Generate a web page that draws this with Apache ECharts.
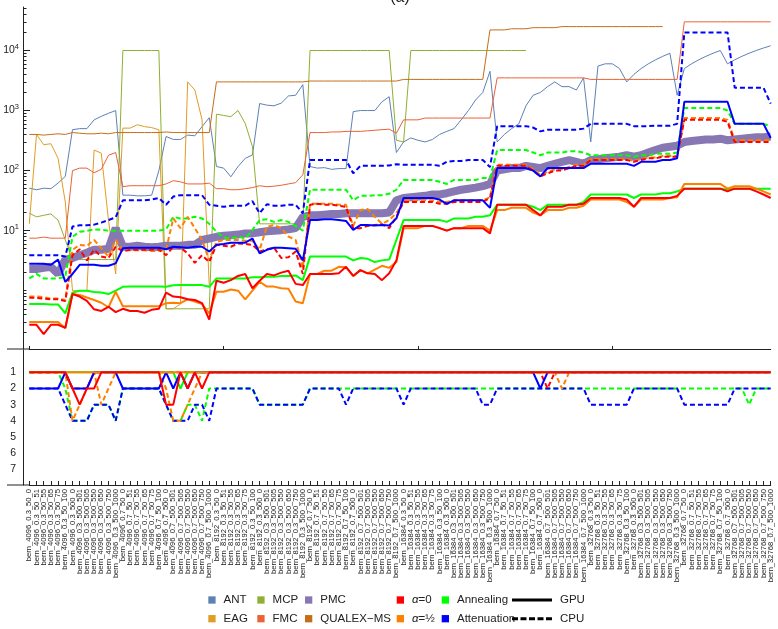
<!DOCTYPE html>
<html>
<head>
<meta charset="utf-8">
<script src="https://cdn.jsdelivr.net/npm/echarts@6/dist/echarts.min.js"></script>
<style>
  html, body { margin: 0; padding: 0; background: #fff; }
  #chart { width: 778px; height: 629px; }
</style>
</head>
<body>
<div id="chart"></div>
<script>
// category names: bern_<size>_<p>_<a>_<b>
const sizes = [4096, 8192, 16384, 32768];
const probs = ['0.3', '0.7'];
const suffixes = ['50_0', '50_51', '50_55', '50_65', '50_75', '50_100',
  '500_0', '500_501', '500_505', '500_550', '500_650', '500_750', '500_1000'];
const categories = [];
sizes.forEach(s => probs.forEach(p => suffixes.forEach(x => categories.push('bern_' + s + '_' + p + '_' + x))));

// top panel: times (log scale), one row per size/p block
const ant = [
  51, 48, 51, 50, 62, 80, 480, 500, 500, 700, 800, 900, 1000,
  39, 39, 38, 38, 39, 100, 370, 330, 330, 390, 380, 540, 760,
  117, 110, 79, 117, 160, 182, 1310, 1230, 1200, 1330, 1750, 1800, 2700,
  117, 110, 112, 105, 108, 108, 960, 1000, 1000, 1000, 1400, 1700, 200,
  300, 350, 320, 300, 330, 400, 450, 500, 700, 1000, 1500, 2000, 4500,
  300, 400, 500, 600, 1200, 1800, 2000, 2500, 3000, 2500, 2500, 2200, 3500,
  300, 5500, 6000, 6000, 5000, 3000, 4000, 5000, 6000, 7000, 8000, 9000, 1800,
  5000, 6000, 7000, 8000, 9000, 10000, 6000, 7000, 8000, 9000, 10000, 11000, 12000
];
const eag = [
  13, 400, 270, 280, 160, 30, 1.0, 1.0, 1.0, 220, 195, 15, 1.9,
  510, 510, 580, 540, 520, 480, 0.5, 0.5, 0.6, 3000, 2200, 700, 1.2,
  null, null, null, null, null, null, null, null, null, null, null, null, null,
  null, null, null, null, null, null, null, null, null, null, null, null, null,
  null, null, null, null, null, null, null, null, null, null, null, null, null,
  null, null, null, null, null, null, null, null, null, null, null, null, null,
  null, null, null, null, null, null, null, null, null, null, null, null, null,
  null, null, null, null, null, null, null, null, null, null, null, null, null
];
const mcp = [
  19.5, 17, 18, 19, 15, 7, 3.3, 3.3, 3.3, 3.3, 3.3, 3.3, 3.3,
  10000, 10000, 10000, 10000, 10000, 10000, 0.5, 0.5, 0.5, 0.5, 0.5, 0.5, 0.5,
  870, 830, 790, 1000, 610, 250, 13, 13, 13, 13, 13, 13, 13,
  10000, 10000, 10000, 10000, 10000, 10000, 10000, 10000, 10000, 10000, 10000, 10000, 320,
  300, 10000, 10000, 10000, 10000, 10000, 10000, 10000, 10000, 10000, 10000, 10000, 10000,
  10000, 10000, 10000, 10000, 10000, null, null, null, null, null, null, null, null,
  null, null, null, null, null, null, null, null, null, null, null, null, null,
  null, null, null, null, null, null, null, null, null, null, null, null, null
];
const fmc = [
  7.5, 7.5, 7.8, 7.5, 7.5, 7.5, 100, 110, 110, 92, 105, 180, 200,
  54, 56, 56, 56, 56, 56, 60, 68, 65, 60, 60, 60, 62,
  50, 50, 48, 48, 50, 52, 56, 54, 55, 57, 60, 63, 85,
  430, 430, 430, 440, 440, 450, 450, 450, 460, 470, 480, 490, 420,
  700, 700, 700, 750, 750, 750, 750, 750, 750, 750, 750, 750, 750,
  3500, 3500, 3500, 3500, 3500, 3500, 3500, 3500, 3500, 3500, 3500, 3500, 3500,
  3300, 3300, 3300, 3300, 3300, 3300, 3300, 3300, 3300, 3300, 3300, 3300, 3300,
  30000, 30000, 30000, 30000, 30000, 30000, 30000, 30000, 30000, 30000, 30000, 30000, 30000
];
const pmc = [
  2.3, 2.3, 2.4, 2.5, 1.9, 3.3, 3.5, 3.9, 4.3, 4.8, 4.8, 5.0, 11,
  5.4, 5.4, 5.6, 5.4, 5.3, 5.4, 5.6, 5.6, 5.6, 5.8, 5.8, 7.0, 7.4,
  7.9, 8.2, 8.4, 8.6, 9.0, 9.0, 9.4, 9.8, 10, 10.2, 10.5, 11, 17,
  18, 18, 18.5, 19, 19, 19.5, 19.5, 19.5, 19.5, 19.5, 19.5, 20, 32,
  35, 36, 37, 38, 40, 40, 42, 45, 48, 50, 52, 55, 60,
  100, 105, 110, 110, 120, 115, 110, 120, 130, 140, 150, 140, 130,
  150, 155, 160, 165, 170, 180, 170, 180, 200, 220, 240, 250, 260,
  300, 310, 320, 330, 330, 340, 320, 330, 340, 350, 360, 360, 370
];
const qualex = [
  400, 400, 390, 400, 410, 400, 430, 420, 410, 410, 420, 410, 430,
  430, 430, 430, 430, 430, 430, 440, 430, 430, 430, 430, 430, 430,
  3000, 3000, 3000, 3000, 3000, 3000, 3000, 3000, 3000, 3000, 3000, 3000, 3000,
  3100, 3100, 3100, 3100, 3100, 3100, 3100, 3100, 3100, 3100, 3100, 3100, 3100,
  3300, 3300, 3300, 3300, 3300, 3300, 3300, 3300, 3300, 3300, 3300, 3300, 22000,
  22000, 22000, 23000, 23000, 23000, 24000, 24000, 24000, 24000, 25000, 25000, 25000, 25000,
  25000, 25000, 25000, 25000, 25000, 25000, 25000, 25000, 25000, 25000, 25000, null, null,
  null, null, null, null, null, null, null, null, null, null, null, null, null
];
const a0Gpu = [
  0.27, 0.27, 0.19, 0.27, 0.27, 0.24, 0.88, 0.8, 0.68, 0.49, 0.46, 0.54, 0.44,
  0.5, 0.46, 0.46, 0.43, 0.48, 0.5, 0.93, 0.8, 0.78, 0.72, 0.7, 0.62, 0.33,
  1.47, 1.36, 1.5, 1.76, 1.9, 1.1, 1.47, 1.9, 1.8, 2.0, 2.15, 1.3, 1.24,
  1.9, 1.9, 1.9, 1.9, 1.95, 2.5, 1.76, 2.2, 1.95, 1.9, 1.5, 1.95, 3.2,
  12, 12, 12, 12, 12, 11, 10, 11, 11, 11, 11, 11, 9,
  27, 27, 27, 27, 27, 22, 18, 25, 25, 25, 27, 27, 28,
  35, 35, 35, 35, 35, 33, 25, 35, 35, 35, 35, 35, 38,
  50, 50, 50, 50, 50, 50, 45, 50, 50, 50, 45, 40, 35
];
const a0Cpu = [
  0.76, 0.76, 0.74, 0.72, 0.72, 0.67, 3.9, 4.9, 3.2, 4.8, 3.7, 3.5, 5.4,
  4.5, 4.8, 4.8, 4.8, 4.8, 4.9, 3.9, 5.4, 5.2, 4.2, 2.9, 3.9, 3.0,
  5.8, 5.6, 5.4, 6.1, 6.0, 5.8, 4.5, 4.9, 5.2, 3.5, 3.6, 4.5, 1.9,
  27, 28, 27, 27, 26, 25, 11, 11, 12, 12.4, 12.8, 11, 17,
  30, 30, 30, 30, 30, 28, 28, 30, 30, 30, 30, 30, 35,
  120, 120, 120, 120, 120, 100, 80, 90, 100, 100, 110, 120, 120,
  150, 150, 150, 150, 150, 150, 140, 150, 160, 160, 170, 170, 170,
  700, 700, 700, 700, 700, 700, 650, 300, 300, 300, 300, 300, 300
];
const a5Gpu = [
  0.3, 0.3, 0.3, 0.3, 0.3, 0.24, 0.88, 0.85, 0.77, 0.7, 0.63, 0.53, 0.96,
  0.55, 0.55, 0.55, 0.55, 0.55, 0.55, 0.62, 0.63, 0.62, 0.72, 0.66, 0.6, 0.42,
  0.96, 0.96, 1.05, 1.0, 0.72, 1.0, 1.41, 1.17, 1.17, 1.1, 1.08, 0.66, 0.62,
  1.9, 1.9, 2.15, 2.15, 2.5, 2.45, 1.76, 2.2, 1.95, 2.25, 2.6, 2.4, 3.0,
  11, 11, 11, 12, 12, 11, 10, 11, 11, 12, 12, 12, 10,
  22, 22, 24, 24, 24, 20, 18, 22, 22, 22, 24, 24, 26,
  33, 33, 33, 33, 33, 30, 25, 33, 33, 33, 33, 35, 36,
  60, 60, 60, 60, 60, 60, 50, 55, 55, 55, 50, 45, 40
];
const a5Cpu = [
  0.8, 0.8, 0.78, 0.74, 0.74, 0.7, 4.8, 5.8, 5.6, 7, 5.1, 3.7, 7,
  4.8, 4.7, 4.7, 4.7, 4.6, 4.6, 4.8, 16, 11, 17, 11, 7, 3.2,
  6.5, 7, 7, 7, 6.8, 6.8, 4.8, 11.6, 12.4, 11, 8, 7, 2.4,
  28, 28, 28, 28, 27, 27, 12, 22, 23, 17, 13, 15, 19.5,
  32, 32, 32, 32, 32, 30, 30, 32, 32, 32, 32, 32, 36,
  125, 125, 125, 125, 125, 105, 85, 95, 105, 105, 115, 125, 125,
  155, 155, 155, 155, 155, 155, 145, 155, 165, 165, 175, 175, 175,
  750, 750, 750, 750, 750, 750, 700, 320, 320, 320, 320, 320, 320
];
const annGpu = [
  0.6, 0.6, 0.6, 0.59, 0.59, 0.42, 0.93, 1.0, 1.0, 0.95, 0.93, 0.88, 1.0,
  1.16, 1.17, 1.17, 1.17, 1.17, 1.17, 1.16, 1.23, 1.25, 1.24, 1.24, 1.24, 1.16,
  1.6, 1.6, 1.6, 1.6, 1.6, 1.67, 1.68, 1.7, 1.7, 1.75, 1.75, 1.8, 1.5,
  3.7, 3.7, 3.7, 3.7, 3.7, 3.7, 3.2, 3.5, 3.4, 3.0, 3.2, 3.3, 7,
  15, 15, 15, 15, 15, 15, 14, 16, 16, 16, 17, 17, 18,
  27, 27, 27, 27, 27, 25, 22, 27, 27, 27, 27, 27, 30,
  40, 40, 40, 40, 40, 40, 35, 40, 40, 40, 42, 42, 45,
  50, 50, 50, 50, 50, 50, 48, 50, 50, 50, 50, 50, 50
];
const annCpu = [
  1.6, 1.9, 1.6, 1.6, 1.6, 1.7, 7.9, 9.6, 9.9, 10.5, 10.3, 10, 10,
  10, 10, 10, 10, 10, 10, 10.5, 17, 16, 16, 17, 16, 13,
  9.6, 7.7, 7.4, 8, 7.4, 10.3, 15, 15.5, 14, 15, 14, 12, 10,
  48, 48, 48, 48, 48, 48, 32, 38, 38, 39, 39, 41, 48,
  70, 70, 70, 70, 70, 65, 60, 70, 70, 70, 70, 75, 75,
  220, 220, 220, 220, 220, 200, 180, 200, 200, 200, 210, 210, 200,
  180, 180, 180, 180, 180, 180, 170, 180, 180, 190, 190, 190, 200,
  1100, 1100, 1100, 1100, 1100, 1100, 1000, 600, 600, 600, 600, 600, 550
];
const attGpu = [
  2.8, 2.8, 2.8, 2.7, 3.3, 1.4, 1.9, 2.7, 2.7, 2.7, 2.6, 2.6, 2.85,
  5.1, 5.2, 5.2, 5.2, 5.2, 5.2, 4.9, 5.4, 5.3, 5.2, 5.4, 5.4, 4.5,
  5.8, 6.0, 6.3, 6.3, 6.3, 7.4, 4.2, 4.8, 5.2, 5.2, 5.1, 5.0, 3.2,
  15, 15, 15.5, 15.5, 15, 14.5, 10.3, 12.4, 12.4, 12.2, 12.4, 12.2, 16,
  35, 35, 35, 35, 35, 33, 28, 32, 32, 32, 32, 32, 24,
  110, 110, 110, 110, 110, 100, 80, 110, 110, 110, 110, 110, 110,
  130, 130, 130, 130, 130, 130, 120, 140, 140, 140, 150, 150, 160,
  1400, 1400, 1400, 1400, 1400, 1400, 1400, 600, 600, 600, 600, 600, 350
];
const attCpu = [
  3.9, 3.9, 3.9, 3.9, 3.9, 3.7, 11.7, 12.3, 12.3, 12.6, 13.6, 15, 16.7,
  32, 32, 32, 32, 33, 35, 27, 37, 39, 39, 39, 39, 27,
  26, 25, 26, 26, 26, 31, 19.5, 27.5, 26, 26, 27, 27, 19.5,
  150, 150, 150, 150, 150, 150, 90, 120, 120, 120, 120, 122, 128,
  125, 125, 125, 125, 125, 120, 140, 145, 145, 150, 150, 150, 115,
  550, 550, 550, 550, 550, 520, 450, 480, 480, 480, 480, 480, 500,
  600, 600, 600, 600, 600, 600, 550, 550, 550, 560, 560, 560, 600,
  20000, 20000, 20000, 20000, 20000, 20000, 20000, 2400, 2400, 2400, 2400, 2400, 1300
];

// bottom panel: ranks
const rA0Gpu = [
  1, 1, 1, 1, 1, 1, 2, 3, 2, 2, 1, 1, 1,
  1, 1, 1, 1, 1, 1, 3, 3, 1, 2, 1, 2, 1,
  1, 1, 1, 1, 1, 1, 1, 1, 1, 1, 1, 1, 1,
  1, 1, 1, 1, 1, 1, 1, 1, 1, 1, 1, 1, 1,
  1, 1, 1, 1, 1, 1, 1, 1, 1, 1, 1, 1, 1,
  1, 1, 1, 1, 1, 1, 1, 1, 1, 1, 1, 1, 1,
  1, 1, 1, 1, 1, 1, 1, 1, 1, 1, 1, 1, 1,
  1, 1, 1, 1, 1, 1, 1, 1, 1, 1, 1, 1, 1
];
const rA0Cpu = [
  1, 1, 1, 1, 1, 1, 2, 2, 2, 1, 1, 1, 1,
  1, 1, 1, 1, 1, 1, 1, 1, 1, 1, 1, 1, 1,
  1, 1, 1, 1, 1, 1, 1, 1, 1, 1, 1, 1, 1,
  1, 1, 1, 1, 1, 1, 1, 1, 1, 1, 1, 1, 1,
  1, 1, 1, 1, 1, 1, 1, 1, 1, 1, 1, 1, 1,
  1, 1, 1, 1, 1, 1, 1, 2, 1, 1, 1, 1, 1,
  1, 1, 1, 1, 1, 1, 1, 1, 1, 1, 1, 1, 1,
  1, 1, 1, 1, 1, 1, 1, 1, 1, 1, 1, 1, 1
];
const rA5Gpu = [
  1, 1, 1, 1, 1, 1, 1, 1, 1, 1, 1, 1, 1,
  1, 1, 1, 1, 1, 1, 1, 1, 1, 1, 1, 1, 1,
  1, 1, 1, 1, 1, 1, 1, 1, 1, 1, 1, 1, 1,
  1, 1, 1, 1, 1, 1, 1, 1, 1, 1, 1, 1, 1,
  1, 1, 1, 1, 1, 1, 1, 1, 1, 1, 1, 1, 1,
  1, 1, 1, 1, 1, 1, 1, 1, 1, 1, 1, 1, 1,
  1, 1, 1, 1, 1, 1, 1, 1, 1, 1, 1, 1, 1,
  1, 1, 1, 1, 1, 1, 1, 1, 1, 1, 1, 1, 1
];
const rA5Cpu = [
  1, 1, 1, 1, 1, 1, 4, 3, 2, 1, 3, 2, 1,
  1, 1, 1, 1, 1, 1, 2, 4, 4, 3, 2, 1, 1,
  1, 1, 1, 1, 1, 1, 1, 1, 1, 1, 1, 1, 1,
  1, 1, 1, 1, 1, 1, 1, 1, 1, 1, 1, 1, 1,
  1, 1, 1, 1, 1, 1, 1, 1, 1, 1, 1, 1, 1,
  1, 1, 1, 1, 1, 1, 1, 1, 1, 2, 1, 1, 1,
  1, 1, 1, 1, 1, 1, 1, 1, 1, 1, 1, 1, 1,
  1, 1, 1, 1, 1, 1, 1, 1, 1, 1, 1, 1, 1
];
const rAnnGpu = [
  1, 1, 1, 1, 1, 1, 1, 1, 1, 1, 1, 1, 1,
  1, 1, 1, 1, 1, 1, 1, 1, 2, 1, 1, 1, 1,
  1, 1, 1, 1, 1, 1, 1, 1, 1, 1, 1, 1, 1,
  1, 1, 1, 1, 1, 1, 1, 1, 1, 1, 1, 1, 1,
  1, 1, 1, 1, 1, 1, 1, 1, 1, 1, 1, 1, 1,
  1, 1, 1, 1, 1, 1, 1, 1, 1, 1, 1, 1, 1,
  1, 1, 1, 1, 1, 1, 1, 1, 1, 1, 1, 1, 1,
  1, 1, 1, 1, 1, 1, 1, 1, 1, 1, 1, 1, 1
];
const rAnnCpu = [
  1, 1, 1, 1, 1, 2, 4, 4, 4, 3, 3, 3, 4,
  2, 2, 2, 2, 2, 2, 3, 4, 4, 3, 3, 4, 2,
  2, 2, 2, 2, 2, 2, 3, 3, 3, 3, 3, 3, 3,
  2, 2, 2, 2, 2, 2, 2, 2, 2, 2, 2, 2, 2,
  2, 2, 2, 2, 2, 2, 2, 2, 2, 2, 2, 2, 2,
  2, 2, 2, 2, 2, 2, 2, 2, 2, 2, 2, 2, 2,
  2, 2, 2, 2, 2, 2, 2, 2, 2, 2, 2, 2, 2,
  2, 2, 2, 2, 2, 2, 2, 2, 2, 3, 2, 2, 2
];
const rAttGpu = [
  2, 2, 2, 2, 2, 1, 2, 2, 2, 1, 1, 1, 1,
  2, 2, 2, 2, 2, 2, 1, 2, 1, 2, 1, 1, 1,
  1, 1, 1, 1, 1, 1, 1, 1, 1, 1, 1, 1, 1,
  1, 1, 1, 1, 1, 1, 1, 1, 1, 1, 1, 1, 1,
  1, 1, 1, 1, 1, 1, 1, 1, 1, 1, 1, 1, 1,
  1, 1, 1, 1, 1, 1, 2, 1, 1, 1, 1, 1, 1,
  1, 1, 1, 1, 1, 1, 1, 1, 1, 1, 1, 1, 1,
  1, 1, 1, 1, 1, 1, 1, 1, 1, 1, 1, 1, 1
];
const rAttCpu = [
  2, 2, 2, 2, 2, 3, 4, 4, 4, 3, 3, 3, 4,
  2, 2, 2, 2, 2, 2, 3, 4, 4, 4, 3, 3, 4,
  2, 2, 2, 2, 2, 2, 3, 3, 3, 3, 3, 3, 3,
  2, 2, 2, 2, 2, 3, 2, 2, 2, 2, 2, 2, 2,
  3, 2, 2, 2, 2, 2, 2, 2, 2, 2, 2, 3, 3,
  2, 2, 2, 2, 2, 2, 2, 2, 2, 2, 2, 2, 2,
  3, 3, 3, 3, 3, 3, 2, 2, 2, 2, 2, 2, 2,
  3, 3, 3, 3, 3, 3, 3, 2, 2, 2, 2, 2, 2
];

const yTickLabels = [10, 100, 1000, 10000];
const yMinorTicks = [0.2, 0.3, 0.4, 0.5, 0.6, 0.7, 0.8, 0.9, 1, 2, 3, 4, 5, 6, 7, 8, 9,
  20, 30, 40, 50, 60, 70, 80, 90, 200, 300, 400, 500, 600, 700, 800, 900,
  2000, 3000, 4000, 5000, 6000, 7000, 8000, 9000, 20000, 30000, 40000, 50000];
const rankLabels = [1, 2, 3, 4, 5, 6, 7];
const yMin = 0.107, yMax = 53000;

const C = {
  ant: '#5e81b5', eag: '#e19c24', mcp: '#8fb032', fmc: '#eb6235',
  pmc: '#8778b3', qualex: '#c56e1a',
  a0: '#ff0000', a5: '#ff8000', ann: '#00ff00', att: '#0000ff'
};
const FONT = 'Liberation Sans';
const INK = '#222';
const DASH = [5, 3];

const chart = echarts.init(document.getElementById('chart'));

function thin(name, data, color) {
  return { name, type: 'line', data, xAxisIndex: 0, yAxisIndex: 0, symbol: 'none',
    color, lineStyle: { width: 1, color }, z: 2 };
}
function thick(name, data, color, dashed, panel) {
  return { name, type: 'line', data, xAxisIndex: panel, yAxisIndex: panel === 0 ? 0 : 3,
    symbol: 'none', color, z: dashed ? 4 : 5,
    lineStyle: { width: 2, color, type: dashed ? DASH : 'solid' } };
}

const series = [
  thin('ANT', ant, C.ant),
  thin('EAG', eag, C.eag),
  thin('MCP', mcp, C.mcp),
  thin('FMC', fmc, C.fmc),
  thin('QUALEX\u2212MS', qualex, C.qualex),
  { name: 'PMC', type: 'line', data: pmc, xAxisIndex: 0, yAxisIndex: 0, symbol: 'none',
    color: C.pmc, z: 3, lineStyle: { width: 8, color: C.pmc } },
  thick('Annealing', annCpu, C.ann, true, 0),
  thick('Attenuation', attCpu, C.att, true, 0),
  thick('α=½', a5Cpu, C.a5, true, 0),
  thick('α=0', a0Cpu, C.a0, true, 0),
  thick('Annealing', annGpu, C.ann, false, 0),
  thick('Attenuation', attGpu, C.att, false, 0),
  thick('α=½', a5Gpu, C.a5, false, 0),
  thick('α=0', a0Gpu, C.a0, false, 0),
  thick('Annealing', rAnnCpu, C.ann, true, 1),
  thick('Attenuation', rAttCpu, C.att, true, 1),
  thick('α=½', rA5Cpu, C.a5, true, 1),
  thick('α=0', rA0Cpu, C.a0, true, 1),
  thick('Annealing', rAnnGpu, C.ann, false, 1),
  thick('Attenuation', rAttGpu, C.att, false, 1),
  thick('α=½', rA5Gpu, C.a5, false, 1),
  thick('α=0', rA0Gpu, C.a0, false, 1),
  { name: 'GPU', type: 'line', data: [], xAxisIndex: 0, yAxisIndex: 0, symbol: 'none',
    color: '#000', lineStyle: { width: 3, color: '#000' } },
  { name: 'CPU', type: 'line', data: [], xAxisIndex: 0, yAxisIndex: 0, symbol: 'none',
    color: '#000', lineStyle: { width: 3, color: '#000', type: [4, 2] } }
];

const legendText = { fontFamily: FONT, fontSize: 11.5, color: INK, lineHeight: 14, padding: [0, 0, 0, 3],
  rich: { i: { fontFamily: FONT, fontSize: 11.5, fontStyle: 'italic', color: INK, lineHeight: 14 } } };
function legendCol(left, names) {
  return {
    orient: 'vertical', left, top: 593, itemGap: 4.7, padding: 0,
    itemWidth: 7.3, itemHeight: 7.3, icon: 'rect',
    data: names, selectedMode: false,
    textStyle: legendText,
    formatter: n => n.startsWith('α') ? '{i|α}' + n.slice(1) : n
  };
}
const lineLegend = {
  orient: 'vertical', left: 512, top: 593, itemGap: 4.7, padding: 0,
  itemWidth: 40, itemHeight: 3, selectedMode: false,
  data: [
    { name: 'GPU', icon: 'path://M0,0H40V3H0Z' },
    { name: 'CPU', icon: 'path://M0,0H6V3H0Z M8.5,0H14.5V3H8.5Z M17,0H23V3H17Z M25.5,0H31.5V3H25.5Z M34,0H40V3H34Z' }
  ],
  textStyle: legendText
};

const axisLine = { show: true, onZero: false, lineStyle: { color: INK, width: 1 } };
const log10 = v => Math.log10(v);

const option = {
  animation: false,
  backgroundColor: '#fff',
  title: { text: '(a)', left: 395, top: -15, textAlign: 'center',
    textStyle: { fontFamily: FONT, fontSize: 16, fontWeight: 'normal', color: INK } },
  grid: [
    { left: 29.3, right: 7.3, top: 7, height: 342 },
    { left: 29.3, right: 7.3, top: 350, height: 135 }
  ],
  legend: [
    legendCol(208.3, ['ANT', 'EAG']),
    legendCol(257.3, ['MCP', 'FMC']),
    legendCol(305, ['PMC', 'QUALEX\u2212MS']),
    legendCol(396.7, ['α=0', 'α=½']),
    legendCol(441.7, ['Annealing', 'Attenuation']),
    lineLegend
  ],
  xAxis: [
    { type: 'category', gridIndex: 0, data: categories, boundaryGap: false,
      axisLine, axisTick: { inside: true, length: 3, lineStyle: { color: INK } },
      axisLabel: { show: false }, splitLine: { show: false } },
    { type: 'category', gridIndex: 1, data: categories, boundaryGap: false,
      axisLine, axisTick: { inside: true, length: 4, lineStyle: { color: INK } },
      axisLabel: { rotate: 90, interval: 0, fontFamily: FONT, fontSize: 7.6, color: INK, margin: 4 },
      splitLine: { show: false } }
  ],
  yAxis: [
    { type: 'log', gridIndex: 0, min: yMin, max: yMax, offset: 6.3, position: 'left',
      axisLine, splitLine: { show: false }, axisTick: { show: false },
      axisLabel: { customValues: yTickLabels, margin: 4, fontFamily: FONT, fontSize: 10.5, color: INK,
        formatter: v => '10{s|' + Math.round(Math.log10(v)) + '}',
        rich: { s: { fontFamily: FONT, fontSize: 7.5, color: INK, padding: [0, 0, 7, 0] } } } },
    // tick helpers for the log axis, positioned in log10 space
    { type: 'value', gridIndex: 0, min: log10(yMin), max: log10(yMax), offset: 6.3, position: 'left',
      axisLine: { show: false }, splitLine: { show: false },
      axisTick: { show: true, inside: true, length: 7, customValues: yTickLabels.map(log10), lineStyle: { color: INK } },
      axisLabel: { show: false, customValues: yTickLabels.map(log10) } },
    { type: 'value', gridIndex: 0, min: log10(yMin), max: log10(yMax), offset: 6.3, position: 'left',
      axisLine: { show: false }, splitLine: { show: false },
      axisTick: { show: true, inside: true, length: 3.5, customValues: yMinorTicks.map(log10), lineStyle: { color: INK } },
      axisLabel: { show: false, customValues: yMinorTicks.map(log10) } },
    { type: 'value', gridIndex: 1, inverse: true, min: -0.38, max: 7.97, offset: 6.3, position: 'left',
      axisLine, splitLine: { show: false },
      axisTick: { inside: true, length: 4, customValues: rankLabels, lineStyle: { color: INK } },
      axisLabel: { customValues: rankLabels, margin: 7, fontFamily: FONT, fontSize: 10.5, color: INK } }
  ],
  graphic: [
    { type: 'line', shape: { x1: 7, y1: 349, x2: 29.3, y2: 349 }, style: { stroke: INK, lineWidth: 1 } },
    { type: 'line', shape: { x1: 7, y1: 485, x2: 29.3, y2: 485 }, style: { stroke: INK, lineWidth: 1 } }
  ],
  series
};

chart.setOption(option);
</script>
</body>
</html>
